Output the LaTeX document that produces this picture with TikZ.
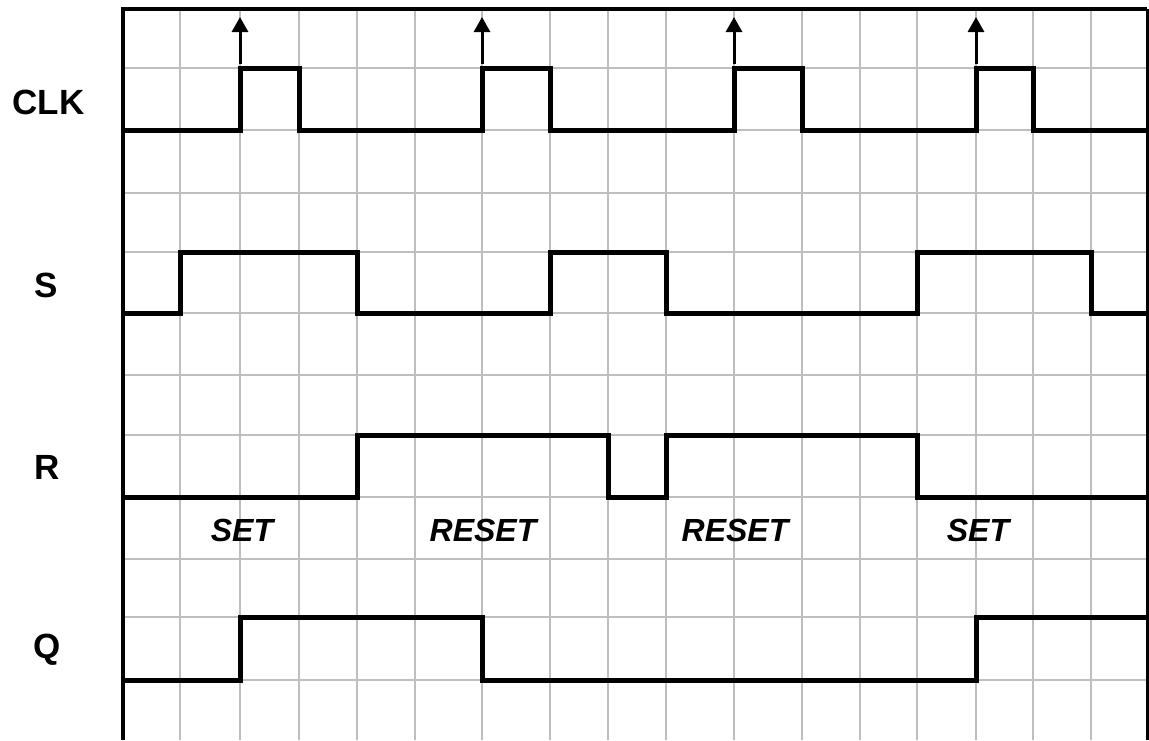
\documentclass[tikz,border=0pt]{standalone}
\usepackage{fontspec}
\setmainfont{Liberation Sans}
\usetikzlibrary{arrows.meta}
\definecolor{gridgray}{HTML}{BEBEBE}
\tikzset{
  gridline/.style={draw=gridgray, line width=2pt},
  frameline/.style={draw=black, line width=4pt},
  wave/.style={draw=black, line width=5pt, line join=miter},
  clkarrow/.style={draw=black, line width=3pt, -{Triangle[width=16pt,length=15pt]}},
  siglabel/.style={font=\bfseries\fontsize{35}{40}\selectfont, inner sep=0pt},
  statelabel/.style={font=\bfseries\itshape\fontsize{32}{38}\selectfont, inner sep=0pt}
}
\begin{document}
\begin{tikzpicture}[x=1pt,y=-1pt]
\useasboundingbox (0,0) rectangle (1149,740);
\fill[white] (0,0) rectangle (1149,740);
% grid
\foreach \gx in {180,240,299,357,415,482,550,608,666,734,802,860,917,976,1033,1091}
  \draw[gridline] (\gx,9) -- (\gx,740);
\foreach \gy in {68,130,193,252,313,375,435,497,559,617,680}
  \draw[gridline] (123,\gy) -- (1148,\gy);
% frame
\draw[frameline] (123,740) -- (123,9) -- (1147,9);
\draw[draw=black, line width=3pt] (1147.5,9) -- (1147.5,740);
% CLK
\draw[wave] (123,130) -- (240,130) -- (240,68) -- (299,68) -- (299,130)
  -- (482,130) -- (482,68) -- (550,68) -- (550,130)
  -- (734,130) -- (734,68) -- (802,68) -- (802,130)
  -- (976,130) -- (976,68) -- (1033,68) -- (1033,130) -- (1149,130);
% S
\draw[wave] (123,313) -- (180,313) -- (180,252) -- (357,252) -- (357,313)
  -- (550,313) -- (550,252) -- (666,252) -- (666,313)
  -- (917,313) -- (917,252) -- (1091,252) -- (1091,313) -- (1149,313);
% R
\draw[wave] (123,497) -- (357,497) -- (357,435) -- (608,435) -- (608,497)
  -- (666,497) -- (666,435) -- (917,435) -- (917,497) -- (1149,497);
% Q
\draw[wave] (123,680) -- (240,680) -- (240,617) -- (482,617) -- (482,680)
  -- (976,680) -- (976,617) -- (1149,617);
% clock edge arrows
\foreach \ax/\n in {240/a,482/b,734/c,976/d}{
  \coordinate (\n0) at (\ax,64);
  \coordinate (\n1) at (\ax,17);
  \draw[clkarrow] (\n0) -- (\n1);
}
% signal labels
\node[siglabel] (lclk) at (48.5,102) {CLK};
\node[siglabel] (ls) at (46.5,285) {S};
\node[siglabel] (lr) at (47.5,467) {R};
\node[siglabel] (lq) at (47,650) {Q};
% state labels
\node[statelabel] (st1) at (242,530) {SET};
\node[statelabel] (st2) at (483,530) {RESET};
\node[statelabel] (st3) at (735,530) {RESET};
\node[statelabel] (st4) at (978,530) {SET};
\end{tikzpicture}
\end{document}
